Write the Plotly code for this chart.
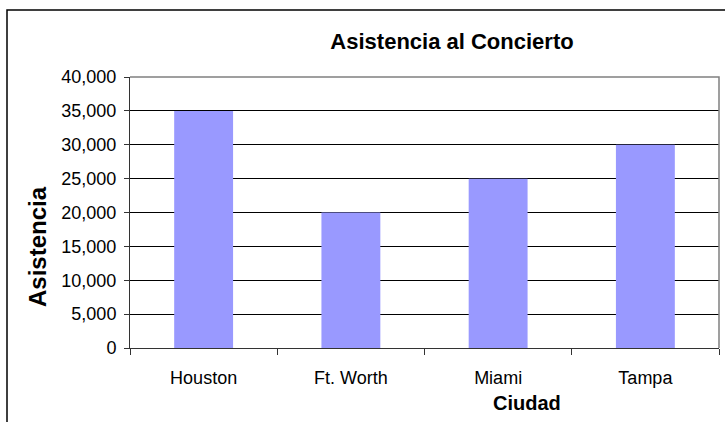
import plotly.graph_objects as go

ciudades = ["Houston", "Ft. Worth", "Miami", "Tampa"]
asistencia = [35000, 20000, 25000, 30000]
y_ticks = [0, 5000, 10000, 15000, 20000, 25000, 30000, 35000, 40000]
y_labels = ["0", "5,000", "10,000", "15,000", "20,000", "25,000", "30,000", "35,000", "40,000"]

W, H = 725, 422
L, R, T, B = 130, 719, 77, 348
pw, ph = R - L, B - T

def px(x):
    return (x - L) / pw

def py(y):
    return (B - y) / ph

FONT = "Liberation Sans, Arial, sans-serif"

fig = go.Figure(go.Bar(
    x=ciudades, y=asistencia, marker_color="#9999FF", marker_line_width=0, width=0.4,
))

fig.update_layout(
    width=W, height=H,
    margin=dict(l=L, r=W - R, t=T, b=H - B, pad=0),
    paper_bgcolor="white", plot_bgcolor="white",
    font=dict(family=FONT, color="black", size=18),
    showlegend=False,
    bargap=0.6,
    title=dict(text="<b>Asistencia al Concierto</b>", font=dict(size=22, family=FONT, color="black"),
               xref="container", yref="container", x=452 / W, xanchor="center",
               y=1 - 41 / H, yanchor="middle"),
)

fig.update_xaxes(
    showline=True, linecolor="#333333", linewidth=1,
    ticks="outside", tickson="boundaries", ticklen=6, tickcolor="#333333",
    showgrid=False, tickfont=dict(size=18, family=FONT), ticklabelstandoff=13,
)
fig.update_yaxes(
    range=[0, 40000], tickvals=y_ticks, ticktext=y_labels,
    showline=True, linecolor="#333333", linewidth=1,
    ticks="outside", ticklen=5, tickcolor="#333333",
    showgrid=True, gridcolor="black", gridwidth=1, zeroline=False,
    tickfont=dict(size=18, family=FONT), ticklabelstandoff=4,
)

shapes = [
    # gray plot-area border (top & right)
    dict(type="path", xref="paper", yref="paper", path="M 0,1 L 1,1 L 1,0",
         line=dict(color="#808080", width=1.5), layer="above"),
    # outer chart-area border
    dict(type="rect", xref="paper", yref="paper", x0=px(7), x1=px(740), y0=py(440), y1=py(10),
         line=dict(color="black", width=1.5), layer="above"),
]
fig.update_layout(shapes=shapes)

fig.add_annotation(text="<b>Asistencia</b>", xref="paper", yref="paper", x=px(37.5), y=py(246.5),
                   textangle=-90, showarrow=False, xanchor="center", yanchor="middle",
                   font=dict(size=24, family=FONT, color="black"))
fig.add_annotation(text="<b>Ciudad</b>", xref="paper", yref="paper", x=px(527), y=py(403),
                   showarrow=False, xanchor="center", yanchor="middle",
                   font=dict(size=20, family=FONT, color="black"))

fig.write_html("out.html", config={"displayModeBar": False},
               post_script="document.body.style.margin='0';document.body.style.padding='0';")
